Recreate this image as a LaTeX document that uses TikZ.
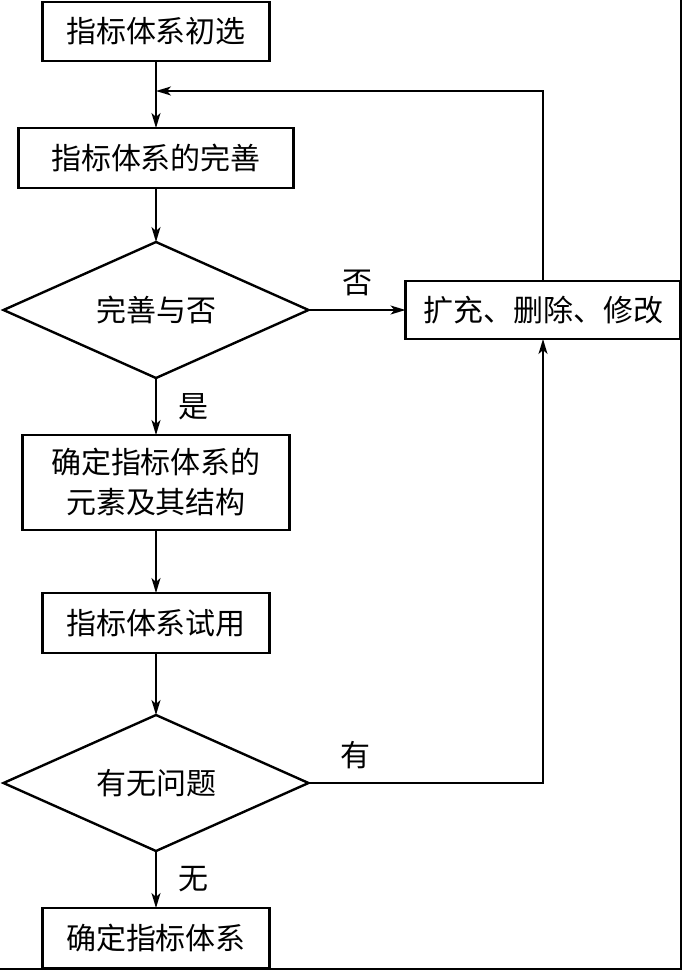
\documentclass[tikz,border=0pt]{standalone}
\usepackage{fontspec}
\newfontfamily\cjk{Noto Sans CJK SC}
\usepackage{tikz}
\usetikzlibrary{arrows.meta, positioning, shapes.geometric}

\begin{document}
\begin{tikzpicture}[x=1pt, y=-1pt, node distance=0cm, outer sep=0pt]
    \tikzstyle{box} = [rectangle, draw, line width=2.6pt, minimum width=227pt, minimum height=59pt, inner sep=0pt, font=\cjk\fontsize{30}{40}\selectfont, align=center]
    \tikzstyle{decision} = [diamond, aspect=2.24, draw, line width=2.4pt, minimum width=305pt, minimum height=136pt, inner sep=0pt, font=\cjk\fontsize{30}{40}\selectfont]
    \tikzstyle{line} = [draw, line width=1.6pt, -{Stealth[length=15pt, width=9pt, inset=4pt]}]
    \tikzstyle{label} = [font=\cjk\fontsize{30}{40}\selectfont, inner sep=0pt]
    \useasboundingbox (0,0) rectangle (682,970);
    \node[box] (chuxuan) at (156,31.5) {指标体系初选};
    \node[box, minimum width=275pt, minimum height=60pt, below=67pt of chuxuan] (wanshan) {指标体系的完善};
    \node[decision, below=54pt of wanshan] (panduan1) {完善与否};
    \node[box, minimum width=267pt, minimum height=95pt, below=57pt of panduan1] (queding) {确定指标体系的\\元素及其结构};
    \node[box, minimum height=60pt, below=63pt of queding] (shiyong) {指标体系试用};
    \node[decision, below=62pt of shiyong] (panduan2) {有无问题};
    \node[box, minimum height=60pt, below=57pt of panduan2] (tixi) {确定指标体系};
    \node[box, minimum width=275pt, minimum height=58pt, right=97pt of panduan1] (xiugai) {扩充、删除、修改};
    \coordinate (huiliu) at (156,91);
    \path[line] (chuxuan) -- (wanshan);
    \path[line] (wanshan) -- (panduan1);
    \path[line] (panduan1) -- node[label, right=22pt, pos=0.5] {是} (queding);
    \path[line] (queding) -- (shiyong);
    \path[line] (shiyong) -- (panduan2);
    \path[line] (panduan2) -- node[label, right=22pt, pos=0.5] {无} (tixi);
    \path[line] (panduan1.east) -- node[label, above=14pt, pos=0.5] {否} (xiugai.west);
    \path[line] (xiugai.north) |- (huiliu);
    \path[line] (panduan2.east) -| node[label, above=14pt, pos=0.1] {有} (xiugai.south);
    \draw[line width=2pt] (680.5,0) -- (680.5,968.5) -- (0,968.5);
\end{tikzpicture}
\end{document}
